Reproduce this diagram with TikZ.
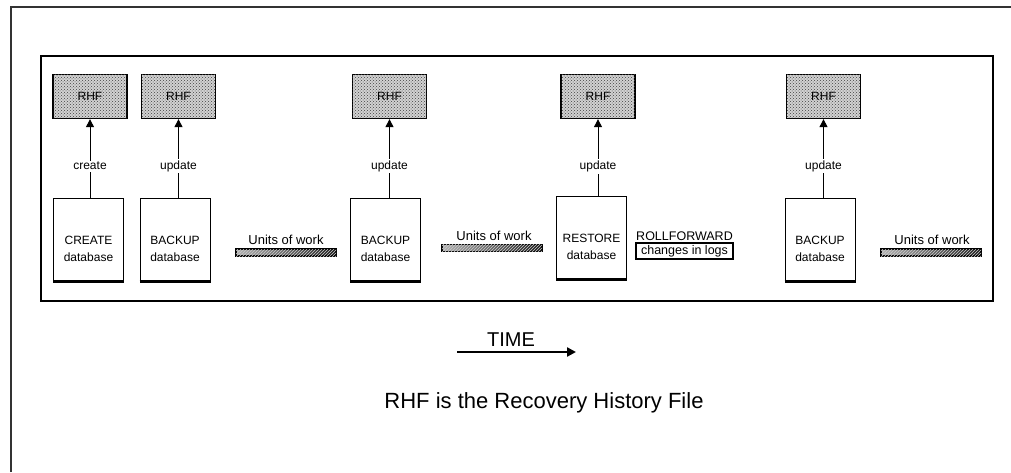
\documentclass[tikz,border=0pt]{standalone}
\usepackage{fontspec}
\setmainfont{Liberation Sans}
\usetikzlibrary{arrows.meta,patterns}
\begin{document}
\begin{tikzpicture}[x=1pt,y=-1pt,
  rhf/.style={draw=black,line width=1.3pt,fill=gray!35,postaction={pattern=crosshatch dots,pattern color=black!75},minimum width=74pt,minimum height=44pt,inner sep=0pt,font=\fontsize{12}{13}\selectfont},
  dbbox/.style={draw=black,line width=1pt,minimum width=70pt,minimum height=83pt,inner sep=0pt},
  dbtext/.style={align=center,font=\fontsize{12}{17}\selectfont,inner sep=0pt},
  upd/.style={-{Triangle[length=8pt,width=8pt]},line width=1pt},
  lbl/.style={fill=white,inner sep=1.5pt,font=\fontsize{12}{14}\selectfont},
  uow/.style={font=\fontsize{13}{15}\selectfont,inner sep=0pt},
  bar/.style={draw=black,line width=1.2pt,left color=gray!60,right color=black!90,postaction={pattern=north east lines,pattern color=gray!40},minimum width=100pt,minimum height=7pt,inner sep=0pt},
  frame/.style={draw=black!80,line width=2pt}
]
\useasboundingbox (0,0) rectangle (1011,472);
% outer frame
\draw[frame] (11,472) -- (11,7) -- (1011,7);
% inner frame
\node[draw=black,line width=2pt,minimum width=952pt,minimum height=245pt,inner sep=0pt] (inner) at (517,178.5) {};
% RHF boxes
\node[rhf] (r1) at (90,96.5) {RHF};
\node[rhf] (r2) at (178.5,96.5) {RHF};
\node[rhf] (r3) at (389.5,96.5) {RHF};
\node[rhf] (r4) at (598,96.5) {RHF};
\node[rhf] (r5) at (823.5,96.5) {RHF};
% database boxes
\node[dbbox] (d1) at (88.5,239.5) {};
\node[dbbox] (d2) at (175,239.5) {};
\node[dbbox] (d3) at (385.5,239.5) {};
\node[dbbox] (d4) at (591.5,237.5) {};
\node[dbbox] (d5) at (820,239.5) {};
\foreach \d in {d1,d2,d3,d4,d5}{\draw[line width=2.5pt] (\d.south west) -- (\d.south east);}
\node[dbtext] (t1) at (88.5,249) {CREATE\\database};
\node[dbtext] (t2) at (175,249) {BACKUP\\database};
\node[dbtext] (t3) at (385.5,249) {BACKUP\\database};
\node[dbtext] (t4) at (591.5,247) {RESTORE\\database};
\node[dbtext] (t5) at (820,249) {BACKUP\\database};
% arrows
\draw[upd] (r1.south |- d1.north) -- (r1.south) node[lbl,pos=0.4] {create};
\draw[upd] (r2.south |- d2.north) -- (r2.south) node[lbl,pos=0.4] {update};
\draw[upd] (r3.south |- d3.north) -- (r3.south) node[lbl,pos=0.4] {update};
\draw[upd] (r4.south |- d4.north) -- (r4.south) node[lbl,pos=0.38] {update};
\draw[upd] (r5.south |- d5.north) -- (r5.south) node[lbl,pos=0.4] {update};
% units of work
\node[uow] (u1) at (286,240) {Units of work};
\node[bar] (b1) at (286,252.5) {};
\node[uow] (u2) at (494,236) {Units of work};
\node[bar] (b2) at (492,248) {};
\node[uow] (u3) at (932,240) {Units of work};
\node[bar] (b3) at (931,252.5) {};
% rollforward
\node[font=\fontsize{12.5}{14}\selectfont,inner sep=0pt] (rf) at (684.5,236) {ROLLFORWARD};
\node[draw=black,line width=1.3pt,minimum width=97pt,minimum height=16pt,inner sep=0pt,font=\fontsize{12.5}{14}\selectfont] (cl) at (684.5,251) {changes in logs};
% time arrow
\coordinate (ts) at (457,352);
\coordinate (te) at (576,352);
\draw[line width=2.5pt,-{Triangle[length=9pt,width=9pt]}] (ts) -- (te);
\node[font=\fontsize{20}{22}\selectfont,inner sep=0pt] (time) at (511,340) {TIME};
% caption
\node[font=\fontsize{22}{25}\selectfont,inner sep=0pt] (cap) at (544,403) {RHF is the Recovery History File};
\end{tikzpicture}
\end{document}
